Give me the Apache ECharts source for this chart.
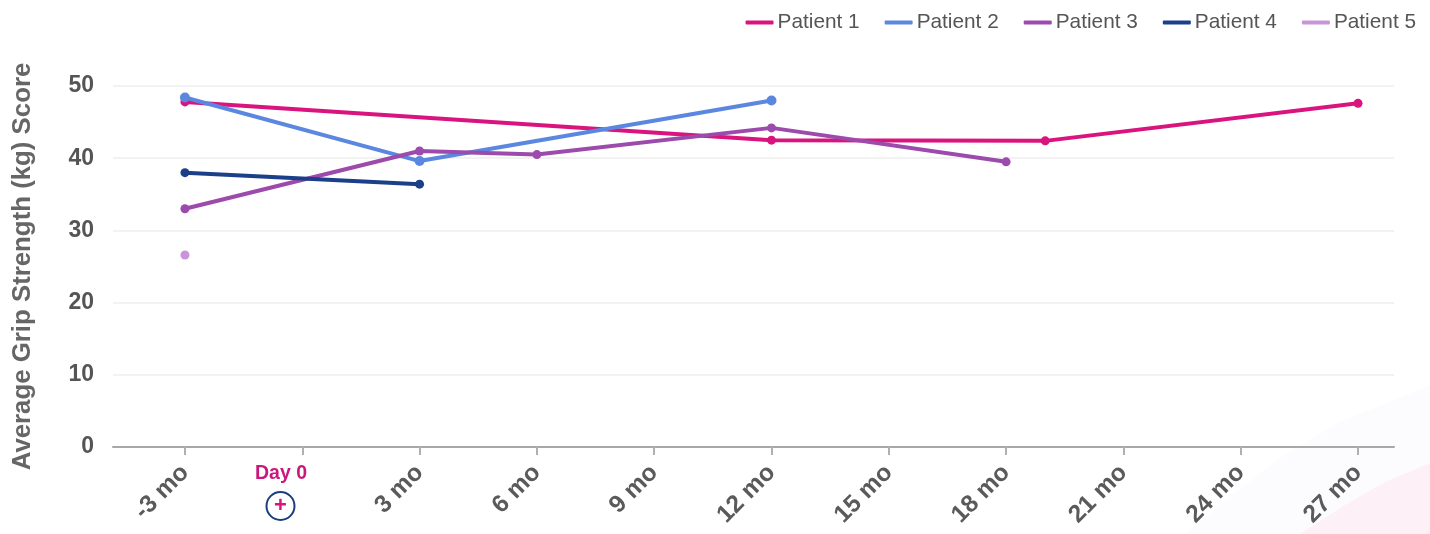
<!DOCTYPE html>
<html><head><meta charset="utf-8">
<style>html,body{margin:0;padding:0;background:#fff}#c{width:1430px;height:534px}</style>
<script src="https://cdn.jsdelivr.net/npm/echarts@6/dist/echarts.min.js"></script>
</head><body><div id="c"></div>
<script>
const xTicks = [-3, 0, 3, 6, 9, 12, 15, 18, 21, 24, 27];
const yTitle = 'Average Grip Strength (kg) Score';
const p1Months = [-3, 12, 19, 27];
const p1Scores = [47.8, 42.5, 42.4, 47.6];
const p2Months = [-3, 3, 12];
const p2Scores = [48.4, 39.6, 48];
const p3Months = [-3, 3, 6, 12, 18];
const p3Scores = [33, 41, 40.5, 44.2, 39.5];
const p4Months = [-3, 3];
const p4Scores = [38, 36.4];
const p5Months = [-3];
const p5Scores = [26.6];
const names = ['Patient 1', 'Patient 2', 'Patient 3', 'Patient 4', 'Patient 5'];
const colors = ['#d9147f', '#5b87e0', '#9c4aab', '#1b3f88', '#cb94d8'];
const allMonths = [p1Months, p2Months, p3Months, p4Months, p5Months];
const allScores = [p1Scores, p2Scores, p3Scores, p4Scores, p5Scores];
const FONT = '"Liberation Sans", Arial, sans-serif';
const chart = echarts.init(document.getElementById('c'), null, {renderer: 'canvas'});
chart.setOption({
  animation: false,
  backgroundColor: '#fff',
  textStyle: {fontFamily: FONT},
  legend: {
    top: 7, right: 9, itemWidth: 28, itemHeight: 4, itemGap: 25, icon: 'roundRect',
    textStyle: {fontSize: 20.8, color: '#555', padding: [0, 0, 0, -1]},
    data: names
  },
  grid: {left: 113, right: 36, top: 86, bottom: 87, outerBoundsMode: 'none'},
  xAxis: {
    type: 'value', min: -4.84, max: 27.92,
    splitLine: {show: false},
    axisLine: {lineStyle: {color: '#a8a8a8', width: 2}},
    axisTick: {show: true, customValues: xTicks, length: 8, lineStyle: {color: '#b0b0b0', width: 2}},
    axisLabel: {
      customValues: xTicks, rotate: 45, fontSize: 24.5, fontWeight: 'bold', color: '#5a5a5a', margin: 22,
      formatter: v => v === 0 ? '' : v + ' mo'
    }
  },
  yAxis: {
    type: 'value', min: 0, max: 50, interval: 10,
    name: yTitle, nameLocation: 'middle', nameGap: 77, nameRotate: 90,
    nameTextStyle: {fontSize: 25.8, fontWeight: 'bold', color: '#666'},
    axisLine: {show: false}, axisTick: {show: false},
    axisLabel: {fontSize: 23, fontWeight: 'bold', color: '#555', margin: 19},
    splitLine: {lineStyle: {color: '#f2f2f2', width: 2}}
  },
  series: names.map((n, i) => ({
    name: n, type: 'line', symbol: 'circle', symbolSize: i === 1 ? 10 : 9,
    showSymbol: true, clip: false,
    itemStyle: {color: colors[i]},
    lineStyle: {color: colors[i], width: 4},
    data: allMonths[i].map((m, j) => [m, allScores[i][j]])
  })),
  graphic: [
    {type: 'polygon', z: -10, silent: true, shape: {points: [[1185,534],[1230,497],[1280,458],[1340,422],[1430,385],[1430,534]]}, style: {fill: '#fcfbfe'}},
    {type: 'polygon', z: -9, silent: true, shape: {points: [[1300,534],[1345,505],[1385,482],[1430,463],[1430,534]]}, style: {fill: '#fdf1f7'}},
    {type: 'text', x: 281, y: 474, style: {text: 'Day 0', fill: '#c9187c', font: 'bold 19.5px ' + FONT, align: 'center', verticalAlign: 'middle'}},
    {type: 'circle', shape: {cx: 280.5, cy: 506, r: 14}, style: {fill: '#fff', stroke: '#1b3f7c', lineWidth: 2}},
    {type: 'text', x: 280.5, y: 506, style: {text: '+', fill: '#d9147f', font: 'bold 22px ' + FONT, align: 'center', verticalAlign: 'middle'}}
  ]
});
</script></body></html>
